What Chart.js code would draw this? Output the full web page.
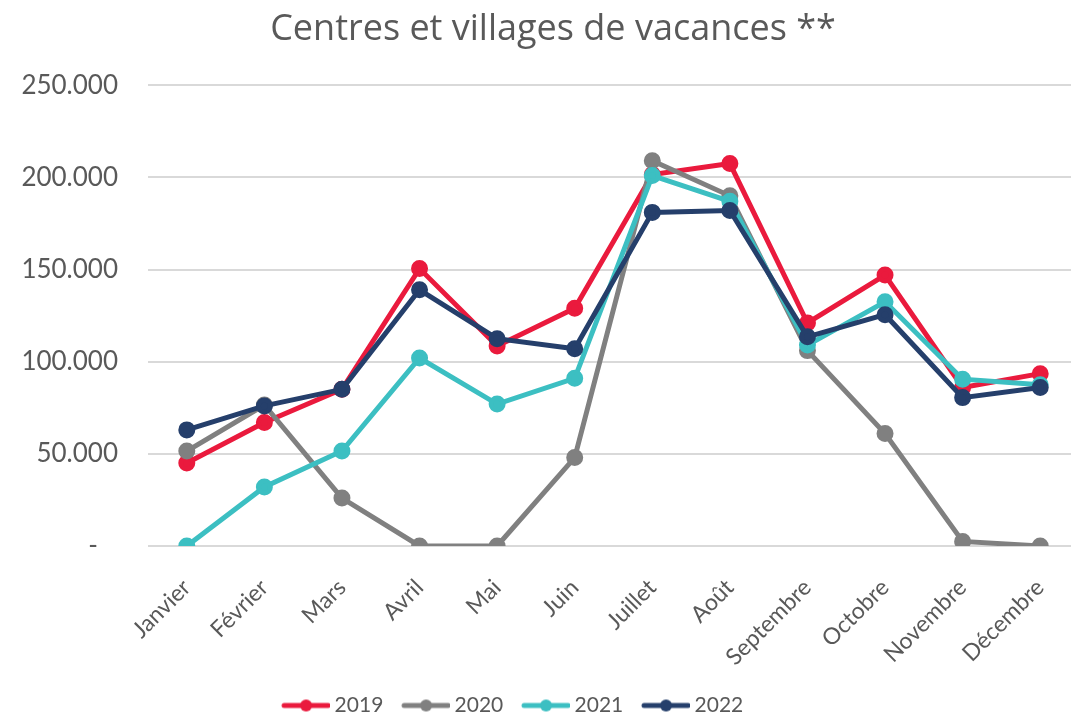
<!DOCTYPE html>
<html>
<head>
<meta charset="utf-8">
<script src="https://cdn.jsdelivr.net/npm/chart.js@4"></script>
<style>
  html, body { margin: 0; padding: 0; background: #fff; overflow: hidden; }
  #wrap { width: 1090px; height: 726px; }
</style>
</head>
<body>
<div id="wrap"><canvas id="myChart"></canvas></div>
<script>
// donnees
const months = ['Janvier', 'Février', 'Mars', 'Avril', 'Mai', 'Juin', 'Juillet', 'Août', 'Septembre', 'Octobre', 'Novembre', 'Décembre'];
const serie2019 = [45000, 67000, 85000, 150500, 108500, 129000, 201500, 207500, 121000, 147000, 86000, 93500];
const serie2020 = [51500, 76500, 26000, 0, 0, 48000, 209000, 190000, 106000, 61000, 2500, 0];
const serie2021 = [0, 32000, 51500, 102000, 77000, 91000, 201000, 187000, 109000, 132500, 90500, 87500];
const serie2022 = [63000, 76000, 85000, 139000, 112500, 107000, 181000, 182000, 113500, 125500, 80500, 86000];
const yTicks = [0, 50000, 100000, 150000, 200000, 250000];

const textColor = '#595959';
const font = 'Lato, "Noto Sans", sans-serif';
const titleFont = '"Open Sans", "Noto Sans", sans-serif';

const series = [
    { label: '2019', data: serie2019, color: '#EA1A3D', order: 3 },
    { label: '2020', data: serie2020, color: '#808080', order: 2 },
    { label: '2021', data: serie2021, color: '#3CBFC2', order: 1 },
    { label: '2022', data: serie2022, color: '#253F6B', order: 0 }
];

// petit symbole ligne + point pour la legende (decale a gauche pour coller au texte)
const legendIcon = (color) => {
    const c = document.createElement('canvas');
    c.width = 54;
    c.height = 14;
    const ctx = c.getContext('2d');
    ctx.strokeStyle = color;
    ctx.lineWidth = 5;
    ctx.lineCap = 'round';
    ctx.beginPath();
    ctx.moveTo(8, 7);
    ctx.lineTo(52, 7);
    ctx.stroke();
    ctx.fillStyle = color;
    ctx.beginPath();
    ctx.arc(30, 7, 6, 0, Math.PI * 2);
    ctx.fill();
    return c;
};

const formatThousands = (v) => {
    if (v === 0) return '-   ';
    return String(v).replace(/\B(?=(\d{3})+(?!\d))/g, '.');
};

const datasets = series.map(s => ({
    label: s.label,
    data: s.data,
    borderColor: s.color,
    backgroundColor: s.color,
    pointBackgroundColor: s.color,
    pointBorderColor: s.color,
    borderWidth: 5,
    pointRadius: 6,
    pointHoverRadius: 6,
    tension: 0,
    order: s.order
}));

new Chart(document.getElementById('myChart'), {
    type: 'line',
    data: { labels: months, datasets: datasets },
    options: {
        responsive: true,
        maintainAspectRatio: false,
        animation: false,
        layout: { padding: { left: 20, right: 4, top: 0, bottom: 0 } },
        plugins: {
            title: {
                display: true,
                text: 'Centres et villages de vacances **',
                color: textColor,
                font: { family: titleFont, size: 36, weight: 'normal' },
                padding: { top: 8, bottom: 34 }
            },
            legend: {
                position: 'bottom',
                labels: {
                    usePointStyle: true,
                    pointStyleWidth: 42,
                    color: textColor,
                    font: { family: font, size: 21 },
                    padding: 8,
                    sort: (a, b) => a.datasetIndex - b.datasetIndex,
                    generateLabels: (chart) => {
                        const items = Chart.defaults.plugins.legend.labels.generateLabels(chart);
                        items.forEach(it => {
                            it.pointStyle = legendIcon(series[it.datasetIndex].color);
                            // espaces en fin de texte : ecart entre entrees, et decalage du bloc vers la gauche
                            const last = it.datasetIndex === series.length - 1;
                            it.text = it.text + (last ? ' '.repeat(15) : '  ');
                        });
                        return items;
                    }
                }
            },
            tooltip: { enabled: false }
        },
        scales: {
            x: {
                offset: true,
                grid: { display: false },
                border: { display: false },
                ticks: {
                    color: textColor,
                    font: { family: font, size: 23 },
                    minRotation: 45,
                    maxRotation: 45,
                    padding: 20
                },
                afterFit: (scale) => { scale.height = 141; }
            },
            y: {
                min: 0,
                max: 250000,
                afterBuildTicks: (scale) => { scale.ticks = yTicks.map(v => ({ value: v })); },
                grid: { color: '#D9D9D9', lineWidth: 2, drawTicks: false },
                border: { display: false },
                ticks: {
                    color: textColor,
                    font: { family: font, size: 26 },
                    padding: 30,
                    callback: (v) => formatThousands(v)
                },
                afterFit: (scale) => { scale.width = 128; }
            }
        }
    }
});
</script>
</body>
</html>
